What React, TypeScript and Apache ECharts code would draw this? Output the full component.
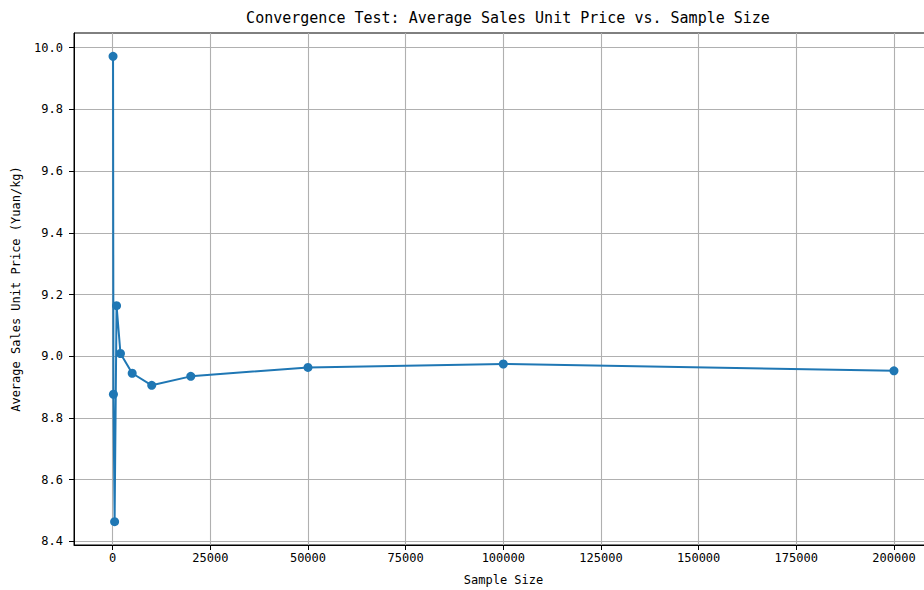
import React, { useEffect, useRef } from "react";
import * as echarts from "echarts";

const sampleSizes = [100, 200, 500, 1000, 2000, 5000, 10000, 20000, 50000, 100000, 200000];
const avgPrices = [9.972, 8.877, 8.464, 9.164, 9.009, 8.945, 8.906, 8.935, 8.964, 8.975, 8.953];
const xTicks = [0, 25000, 50000, 75000, 100000, 125000, 150000, 175000, 200000];
const yTicks = [8.4, 8.6, 8.8, 9.0, 9.2, 9.4, 9.6, 9.8, 10.0];

const FONT = "'DejaVu Sans Mono', monospace";

export default function App() {
  const ref = useRef<HTMLDivElement>(null);
  useEffect(() => {
    if (!ref.current) return;
    const chart = echarts.init(ref.current, undefined, { renderer: "svg" });
    const xMin = Math.min(...sampleSizes);
    const xMax = Math.max(...sampleSizes);
    const xPad = (xMax - xMin) * 0.05;
    const yMin = Math.min(...avgPrices);
    const yMax = Math.max(...avgPrices);
    const yPad = (yMax - yMin) * 0.05;
    chart.setOption({
      animation: false,
      backgroundColor: "#ffffff",
      title: {
        text: "Convergence Test: Average Sales Unit Price vs. Sample Size",
        left: 503,
        top: 5,
        textAlign: "center",
        textStyle: { fontFamily: FONT, fontSize: 15, fontWeight: "normal", color: "#000" },
      },
      grid: {
        left: 74,
        top: 33,
        width: 859,
        height: 512,
        show: true,
        borderColor: "#000",
        borderWidth: 1,
        backgroundColor: "transparent",
        outerBoundsMode: "none",
        containLabel: false,
      },
      xAxis: {
        type: "value",
        min: xMin - xPad,
        max: xMax + xPad,
        name: "Sample Size",
        nameLocation: "middle",
        nameGap: 29,
        nameTextStyle: { fontFamily: FONT, fontSize: 12, color: "#000" },
        axisLine: { show: true, onZero: false, lineStyle: { color: "#000", width: 1 } },
        axisTick: { show: true, inside: false, length: 5, customValues: xTicks, lineStyle: { color: "#000" } },
        axisLabel: {
          customValues: xTicks,
          fontFamily: FONT,
          fontSize: 12,
          color: "#000",
          margin: 7,
          formatter: (v: number) => String(v),
        },
        splitLine: { show: true, customValues: xTicks, lineStyle: { color: "#b0b0b0", width: 1.1 } },
      },
      yAxis: {
        type: "value",
        min: yMin - yPad,
        max: yMax + yPad,
        name: "Average Sales Unit Price (Yuan/kg)",
        nameLocation: "middle",
        nameGap: 52,
        nameTextStyle: { fontFamily: FONT, fontSize: 12, color: "#000" },
        axisLine: { show: true, onZero: false, lineStyle: { color: "#000", width: 1 } },
        axisTick: { show: true, inside: false, length: 5, customValues: yTicks, lineStyle: { color: "#000" } },
        axisLabel: {
          customValues: yTicks,
          fontFamily: FONT,
          fontSize: 12,
          color: "#000",
          margin: 11,
          formatter: (v: number) => v.toFixed(1),
        },
        splitLine: { show: true, customValues: yTicks, lineStyle: { color: "#b0b0b0", width: 1.1 } },
      },
      series: [
        {
          type: "line",
          data: sampleSizes.map((s, i) => [s, avgPrices[i]]),
          symbol: "circle",
          symbolSize: 9,
          showAllSymbol: true,
          itemStyle: { color: "#1f77b4" },
          lineStyle: { color: "#1f77b4", width: 2 },
        },
      ],
    });
    return () => chart.dispose();
  }, []);
  return (
    <div
      ref={ref}
      style={{ position: "fixed", left: 0, top: 0, width: 924, height: 590, background: "#fff" }}
    />
  );
}
